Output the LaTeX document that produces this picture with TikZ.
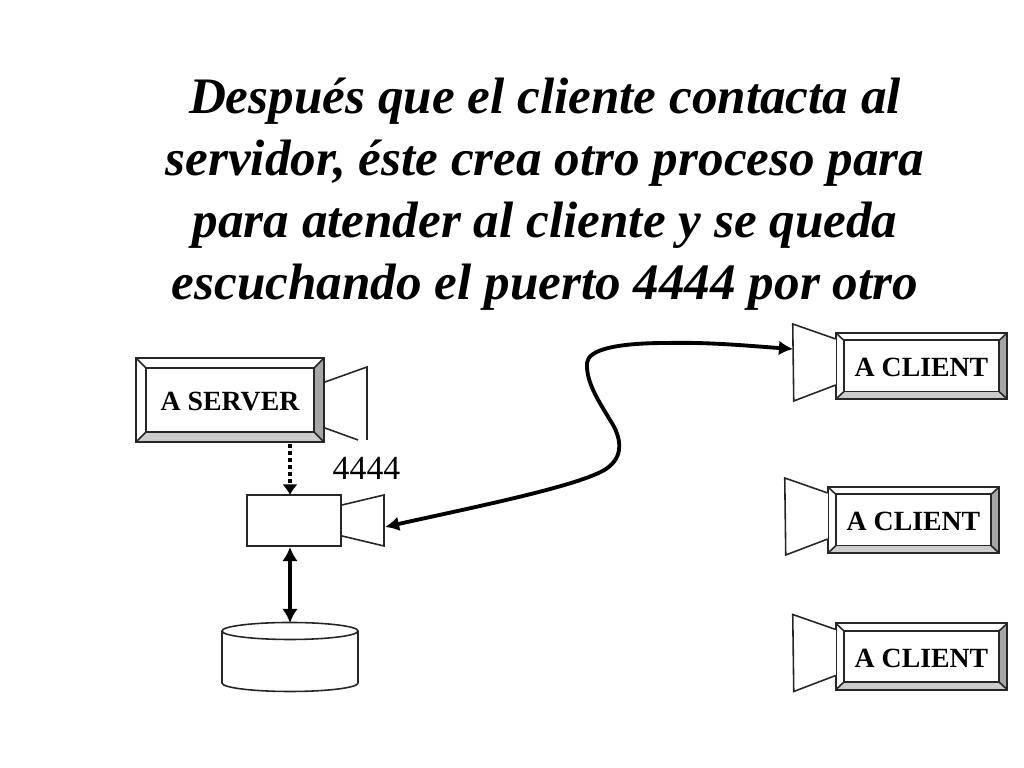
\documentclass[tikz,border=0pt]{standalone}
\usepackage{fontspec}
\setmainfont{Liberation Serif}
\usetikzlibrary{arrows.meta,positioning}
\tikzset{
  outline/.style={draw=black!85,line width=0.45pt},
  buttonface/.style={fill=white,inner sep=0pt,text height=6pt,text depth=0pt,font=\bfseries\fontsize{7.9}{9}\selectfont},
  bigarrow/.style={line width=1.3pt,{Latex[length=4pt,width=4.4pt]}-{Latex[length=4pt,width=4.4pt]}},
  dotarrow/.style={line width=1.3pt,dash pattern=on 1.15pt off 0.85pt,-{Latex[length=3pt,width=4.4pt]}},
  title/.style={align=center,inner sep=0pt,font=\bfseries\itshape\fontsize{14.55}{17.6}\selectfont}
}
% one bevelled button: name, centre, outer size, inner size, text
\newcommand{\bevelbutton}[8]{
  \node[fill=white,minimum width=#4cm,minimum height=#5cm,inner sep=0pt] (#1) at (#2,#3) {};
  \node[buttonface,minimum width=#6cm,minimum height=#7cm] (#1in) at (#2,#3) {#8};
  \fill[black!20] (#1.south west) -- (#1.south east) -- (#1in.south east) -- (#1in.south west) -- cycle;
  \fill[black!35] (#1.south east) -- (#1.north east) -- (#1in.north east) -- (#1in.south east) -- cycle;
  \draw[outline] (#1.south west) rectangle (#1.north east);
  \draw[outline] (#1in.south west) rectangle (#1in.north east);
  \foreach \c in {south west,south east,north west,north east}
    \draw[outline] (#1.\c) -- (#1in.\c);
}
\begin{document}
\begin{tikzpicture}[x=0.01cm,y=-0.01cm]
\useasboundingbox (0,0) rectangle (1024,768);
\node[title] (heading) at (545,194) {Después que el cliente contacta al\\servidor, éste crea otro proceso para\\para atender al cliente y se queda\\escuchando el puerto 4444 por otro};

% server
\bevelbutton{server}{230}{400}{1.87}{0.83}{1.67}{0.63}{A SERVER}
\draw[outline] (325,382) -- (367,367) -- (367,440);
\draw[outline] (325,428) -- (358,440);
\node[inner sep=0pt,font=\fontsize{9.6}{11}\selectfont] (port) at (366.5,468) {4444};

% child process
\node[outline,minimum width=0.94cm,minimum height=0.51cm,inner sep=0pt] (child) at (294,520.5) {};
\draw[outline] (342,505) -- (384,495) -- (384,546) -- (342,536);
\coordinate (childmouth) at (385,527);
\coordinate (serverfoot) at (290,444);
\coordinate (childtop) at (290,495);
\coordinate (childfoot) at (290,547);
\draw[dotarrow] (serverfoot) -- (childtop);

% disk
\coordinate (disktop) at (290,623);
\draw[outline] (222,631) arc[start angle=180,end angle=360,x radius=68,y radius=8.5]
  -- (358,683) arc[start angle=0,end angle=180,x radius=68,y radius=8.5] -- cycle;
\draw[outline] (222,631) arc[start angle=180,end angle=0,x radius=68,y radius=8.5];
\draw[bigarrow] (childfoot) -- (disktop);

% clients
\foreach \name/\cx/\cy in {one/921.5/366,two/913.5/520,three/921.5/656.5}{
  \bevelbutton{\name}{\cx}{\cy}{1.70}{0.65}{1.54}{0.50}{A CLIENT}
  \draw[outline,fill=white] (\name.west) ++(0,-27) -- ++(-43,-15) -- ++(1,77) -- ++(42,-16);
}
\coordinate (clientmouth) at (793,349);
\draw[line width=1.1pt,{Latex[length=4pt,width=4.2pt]}-{Latex[length=4pt,width=4.2pt]}] (childmouth) .. controls (470,508) and (580,486) .. (606,469) .. controls (624,457) and (622,438) .. (610,420) .. controls (598,400) and (586,382) .. (587,363) .. controls (588,350) and (615,343) .. (667,343) .. controls (710,342) and (750,346) .. (clientmouth);
\end{tikzpicture}
\end{document}
